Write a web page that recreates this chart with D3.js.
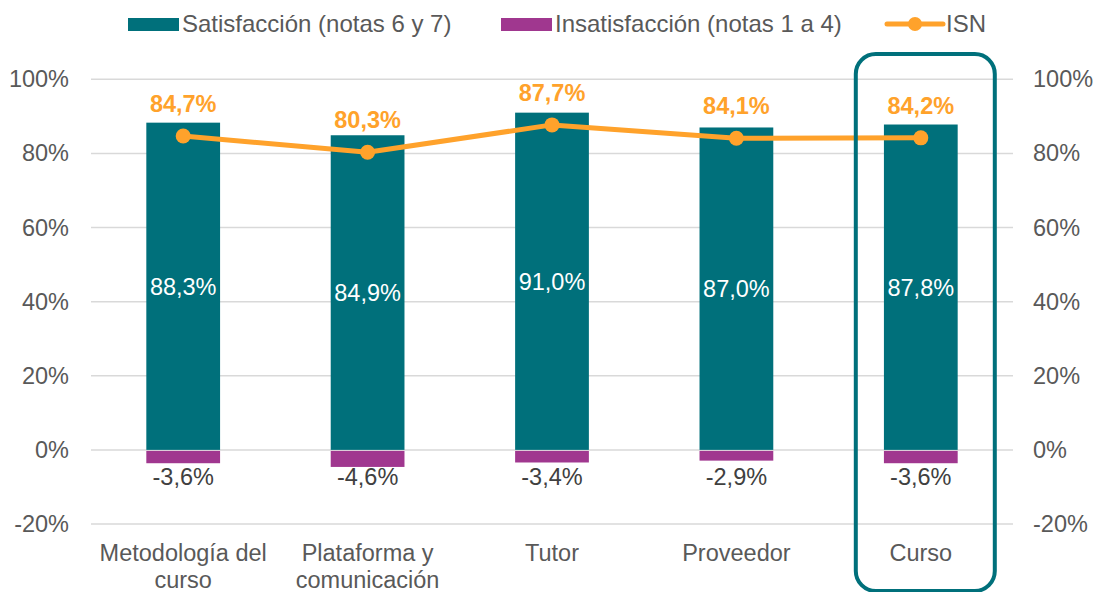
<!DOCTYPE html>
<html>
<head>
<meta charset="utf-8">
<script src="https://cdn.jsdelivr.net/npm/d3@7/dist/d3.min.js"></script>
<style>
  html, body { margin: 0; padding: 0; background: #fff; }
  svg { display: block; font-family: "Liberation Sans", Arial, sans-serif; }
</style>
</head>
<body>
<svg id="chart" width="1096" height="592"></svg>
<script>
// Survey results per dimension
const categories = [["Metodología del", "curso"], ["Plataforma y", "comunicación"], ["Tutor"], ["Proveedor"], ["Curso"]];
const satisfaction = [88.3, 84.9, 91.0, 87.0, 87.8];
const dissatisfaction = [-3.6, -4.6, -3.4, -2.9, -3.6];
const isn = [84.7, 80.3, 87.7, 84.1, 84.2];
const yTicks = [-20, 0, 20, 40, 60, 80, 100];
const legendLabels = ["Satisfacción (notas 6 y 7)", "Insatisfacción (notas 1 a 4)", "ISN"];
const highlighted = "Curso";

const TEAL = "#00707B", PURPLE = "#A0378F", ORANGE = "#FFA22B";
const GRID = "#D9D9D9", TEXT = "#595959", DARK = "#404040";
const FS = 23.5;
const fmt = v => v.toFixed(1).replace(".", ",") + "%";

const svg = d3.select("#chart");
const plot = { left: 91, right: 1013, top: 79.3, bottom: 524 };

const x = d3.scaleBand()
  .domain(categories.map(c => c.join(" ")))
  .range([plot.left, plot.right])
  .paddingInner(0.6)
  .paddingOuter(0.3);

const y = d3.scaleLinear().domain([-20, 100]).range([plot.bottom, plot.top]);

// Gridlines
svg.append("g").selectAll("line").data(yTicks).join("line")
  .attr("x1", plot.left).attr("x2", plot.right)
  .attr("y1", d => y(d)).attr("y2", d => y(d))
  .attr("stroke", GRID).attr("stroke-width", 1.5);

// Left and right percentage axes
const axisStyle = g => {
  g.select(".domain").remove();
  g.selectAll(".tick line").remove();
  g.selectAll(".tick text").attr("fill", TEXT).attr("font-size", FS)
    .attr("font-family", '"Liberation Sans", Arial, sans-serif');
};
svg.append("g").attr("transform", `translate(${plot.left},0)`)
  .call(d3.axisLeft(y).tickValues(yTicks).tickFormat(d => d + "%").tickSize(0).tickPadding(22))
  .call(axisStyle);
svg.append("g").attr("transform", `translate(${plot.right},0)`)
  .call(d3.axisRight(y).tickValues(yTicks).tickFormat(d => d + "%").tickSize(0).tickPadding(20))
  .call(axisStyle);

const keys = categories.map(c => c.join(" "));
const cx = i => x(keys[i]) + x.bandwidth() / 2;

// Satisfaction bars
svg.append("g").selectAll("rect").data(satisfaction).join("rect")
  .attr("x", (d, i) => x(keys[i])).attr("width", x.bandwidth())
  .attr("y", d => y(d)).attr("height", d => y(0) - y(d))
  .attr("fill", TEAL);

// Dissatisfaction bars
svg.append("g").selectAll("rect").data(dissatisfaction).join("rect")
  .attr("x", (d, i) => x(keys[i])).attr("width", x.bandwidth())
  .attr("y", y(0) + 1).attr("height", d => y(d) - y(0) - 1)
  .attr("fill", PURPLE);

// Satisfaction value labels, centred in each bar
svg.append("g").selectAll("text").data(satisfaction).join("text")
  .attr("x", (d, i) => cx(i)).attr("y", d => (y(d) + y(0)) / 2 + 8.5)
  .attr("text-anchor", "middle").attr("fill", "#fff").attr("font-size", FS)
  .text(fmt);

// Dissatisfaction value labels
svg.append("g").selectAll("text").data(dissatisfaction).join("text")
  .attr("x", (d, i) => cx(i)).attr("y", y(0) + 35)
  .attr("text-anchor", "middle").attr("fill", DARK).attr("font-size", FS)
  .text(fmt);

// ISN line with markers
const line = d3.line().x((d, i) => cx(i)).y(d => y(d));
svg.append("path").datum(isn).attr("d", line)
  .attr("fill", "none").attr("stroke", ORANGE).attr("stroke-width", 5)
  .attr("stroke-linejoin", "round");
svg.append("g").selectAll("circle").data(isn).join("circle")
  .attr("cx", (d, i) => cx(i)).attr("cy", d => y(d)).attr("r", 7.5)
  .attr("fill", ORANGE);
svg.append("g").selectAll("text").data(isn).join("text")
  .attr("x", (d, i) => cx(i)).attr("y", d => y(d) - 24)
  .attr("text-anchor", "middle").attr("fill", ORANGE).attr("font-size", FS)
  .attr("font-weight", "bold").text(fmt);

// Category labels
const cat = svg.append("g").selectAll("text").data(categories).join("text")
  .attr("text-anchor", "middle").attr("fill", TEXT).attr("font-size", FS)
  .attr("transform", (d, i) => `translate(${cx(i)},561)`);
cat.selectAll("tspan").data(d => d).join("tspan")
  .attr("x", 0).attr("y", (d, j) => j * 27).text(d => d);

// Highlight frame around the overall column
const hi = keys.indexOf(highlighted);
const hx = x(keys[hi]) + x.bandwidth() / 2;
svg.append("rect")
  .attr("x", hx - 65).attr("y", 54).attr("width", 139).attr("height", 537)
  .attr("rx", 20).attr("ry", 20)
  .attr("fill", "none").attr("stroke", TEAL).attr("stroke-width", 4);

// Legend
const LFS = 24;
const lg = svg.append("g").attr("font-size", LFS).attr("fill", TEXT);
lg.append("rect").attr("x", 128).attr("y", 18).attr("width", 51).attr("height", 13).attr("fill", TEAL);
lg.append("text").attr("x", 182).attr("y", 31.5).text(legendLabels[0]);
lg.append("rect").attr("x", 501).attr("y", 18).attr("width", 51).attr("height", 13).attr("fill", PURPLE);
lg.append("text").attr("x", 555).attr("y", 31.5).text(legendLabels[1]);
lg.append("line").attr("x1", 887).attr("x2", 943).attr("y1", 24).attr("y2", 24)
  .attr("stroke", ORANGE).attr("stroke-width", 5).attr("stroke-linecap", "round");
lg.append("circle").attr("cx", 915).attr("cy", 24).attr("r", 7).attr("fill", ORANGE);
lg.append("text").attr("x", 946).attr("y", 31.5).text(legendLabels[2]);
</script>
</body>
</html>
